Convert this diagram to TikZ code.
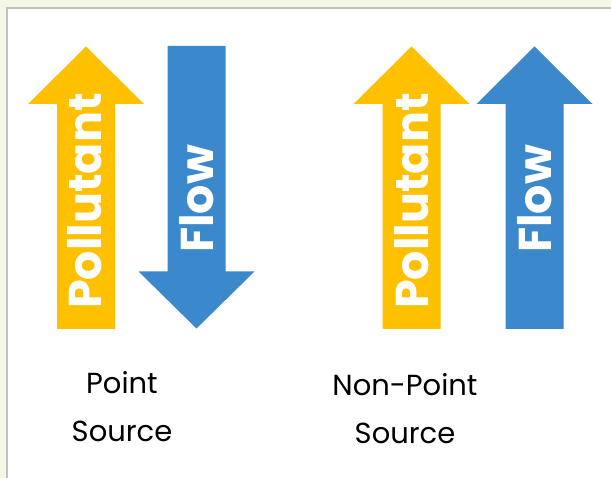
\documentclass[tikz,border=0pt]{standalone}
\usepackage{fontspec}
\setmainfont{Poppins}
\usepackage{tikz}
\usetikzlibrary{positioning}
\definecolor{pollutantyellow}{RGB}{255,192,0}
\definecolor{flowblue}{RGB}{59,136,204}
\definecolor{pagetint}{RGB}{245,247,230}
\definecolor{frame}{RGB}{192,192,192}
\tikzset{arrowtext/.style = {text = white, font = \fontsize{46}{46}\bfseries\selectfont, rotate = 90, anchor = base, inner sep = 0}}
\tikzset{caption/.style = {align = center, font = \fontsize{29}{44}\selectfont, anchor = base, inner sep = 0}}
% up arrow at centre x: shaft 58 wide, head 116 wide
\def\drawuparrow(#1)#2{%
    \fill [#2] (#1-29, 329) -- (#1-29, 104) -- (#1-58, 104) -- (#1, 46.5)
        -- (#1+58, 104) -- (#1+29, 104) -- (#1+29, 329) -- cycle;%
}
\def\drawdownarrow(#1)#2{%
    \fill [#2] (#1-29, 46) -- (#1-29, 271.5) -- (#1-58, 271.5) -- (#1, 328.5)
        -- (#1+58, 271.5) -- (#1+29, 271.5) -- (#1+29, 46) -- cycle;%
}

\begin{document}
\begin{tikzpicture}[x = 1pt, y = -1pt]
    \useasboundingbox (0, 0) rectangle (611, 478);
    \fill [pagetint] (0, 0) rectangle (611, 478);
    \fill [white] (7, 8) rectangle (615, 482);
    \draw [frame, line width = 1.6] (7, 482) -- (7, 8) -- (615, 8);

    \drawuparrow(86){pollutantyellow}
    \drawdownarrow(196.5){flowblue}
    \drawuparrow(411.5){pollutantyellow}
    \drawuparrow(534.5){flowblue}

    \node [arrowtext] (pollutantA) at (101.5, 201) {Pollutant};
    \node [arrowtext] (flowA) at (213, 199) {Flow};
    \node [arrowtext] (pollutantB) at (428, 201) {Pollutant};
    \node [arrowtext] (flowB) at (551, 199) {Flow};

    \node [caption] (pointsrc) at (122, 441.5) {Point\\[3.5pt]Source};
    \node [caption] (nonpointsrc) at (405, 443) {Non-Point\\[3.5pt]Source};
  \end{tikzpicture}
\end{document}
